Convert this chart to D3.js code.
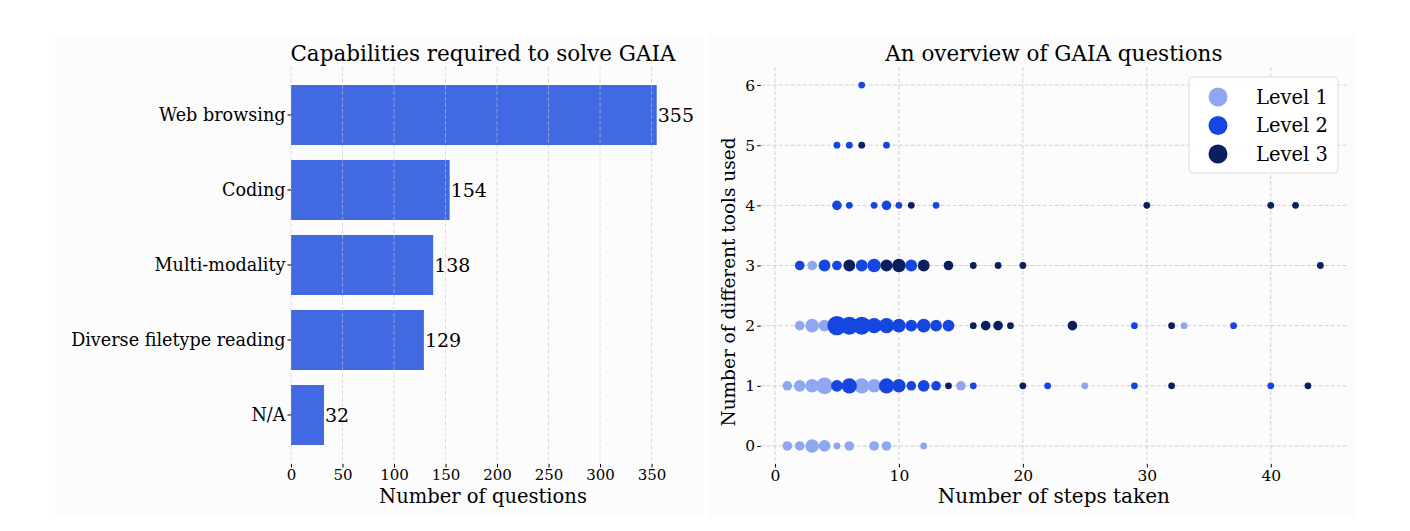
<!DOCTYPE html>
<html>
<head>
<meta charset="utf-8">
<script src="https://cdn.jsdelivr.net/npm/d3@7"></script>
<style>
  body { margin: 0; background: #ffffff; }
  text { font-family: "DejaVu Serif", serif; fill: #000; }
</style>
</head>
<body>
<div id="chart"></div>
<script>
// bar chart data
const capabilities = ["Web browsing", "Coding", "Multi-modality", "Diverse filetype reading", "N/A"];
const capabilityCounts = [355, 154, 138, 129, 32];
const barTicks = [0, 50, 100, 150, 200, 250, 300, 350];

// scatter data: [steps, tools, number of questions]
const level1Points = [
  [1, 0, 2], [2, 0, 2], [3, 0, 4], [4, 0, 3], [5, 0, 1], [6, 0, 2], [8, 0, 2], [9, 0, 2], [12, 0, 1],
  [1, 1, 2], [2, 1, 3], [3, 1, 4], [4, 1, 6], [7, 1, 5], [8, 1, 4], [15, 1, 2], [25, 1, 1],
  [2, 2, 2], [3, 2, 4], [4, 2, 3], [33, 2, 1],
  [3, 3, 2]
];
const level2Points = [
  [5, 1, 3], [6, 1, 5], [9, 1, 5], [10, 1, 4], [11, 1, 2], [12, 1, 3], [13, 1, 2], [16, 1, 1],
  [22, 1, 1], [29, 1, 1], [40, 1, 1],
  [5, 2, 8], [6, 2, 7], [7, 2, 7], [8, 2, 5], [9, 2, 5], [10, 2, 4], [11, 2, 3], [12, 2, 4],
  [13, 2, 3], [14, 2, 3], [29, 2, 1], [37, 2, 1],
  [2, 3, 2], [4, 3, 3], [5, 3, 2], [7, 3, 3], [8, 3, 4], [11, 3, 3],
  [5, 4, 2], [6, 4, 1], [8, 4, 1], [9, 4, 2], [10, 4, 1], [13, 4, 1],
  [5, 5, 1], [6, 5, 1], [9, 5, 1],
  [7, 6, 1]
];
const level3Points = [
  [14, 1, 1], [20, 1, 1], [32, 1, 1], [43, 1, 1],
  [16, 2, 1], [17, 2, 2], [18, 2, 2], [19, 2, 1], [24, 2, 2], [32, 2, 1],
  [6, 3, 3], [9, 3, 3], [10, 3, 4], [12, 3, 3], [14, 3, 2], [16, 3, 1], [18, 3, 1], [20, 3, 1], [44, 3, 1],
  [11, 4, 1], [30, 4, 1], [40, 4, 1], [42, 4, 1],
  [7, 5, 1]
];
const levelNames = ["Level 1", "Level 2", "Level 3"];
const stepTicks = [0, 10, 20, 30, 40];
const toolTicks = [0, 1, 2, 3, 4, 5, 6];

const width = 1410, height = 531;
const levelColor = d3.scaleOrdinal().domain(levelNames).range(["#8ea7f0", "#1547e0", "#0b1f5e"]);
const gridColor = "#c8c8c8";

const svg = d3.select("#chart").append("svg")
    .attr("width", width)
    .attr("height", height);

// faint panel backgrounds
svg.append("rect").attr("x", 55).attr("y", 35).attr("width", 648).attr("height", 482).attr("fill", "#fcfcfc");
svg.append("rect").attr("x", 708).attr("y", 35).attr("width", 648).attr("height", 482).attr("fill", "#fcfcfc");

const plotTop = 67, plotBottom = 464;

// ---------- left: bar chart ----------
const xBar = d3.scaleLinear()
    .domain([0, d3.max(capabilityCounts) * 1.05])
    .range([291, 675]);

const yBar = d3.scaleBand()
    .domain(capabilities)
    .range([77.5, 452.5])
    .paddingInner(0.2)
    .paddingOuter(0.1);

svg.selectAll("rect.bar")
    .data(capabilities)
    .enter().append("rect")
    .attr("class", "bar")
    .attr("x", xBar(0))
    .attr("y", d => yBar(d))
    .attr("width", (d, i) => xBar(capabilityCounts[i]) - xBar(0))
    .attr("height", yBar.bandwidth())
    .attr("fill", "#4169e1");

// vertical grid
svg.selectAll("line.barGrid")
    .data(barTicks)
    .enter().append("line")
    .attr("class", "barGrid")
    .attr("x1", d => xBar(d)).attr("x2", d => xBar(d))
    .attr("y1", plotTop).attr("y2", plotBottom)
    .attr("stroke", gridColor)
    .attr("stroke-opacity", 0.75)
    .attr("stroke-dasharray", "4,2")
    .attr("stroke-width", 0.8);

// value labels
svg.selectAll("text.value")
    .data(capabilities)
    .enter().append("text")
    .attr("class", "value")
    .attr("x", (d, i) => xBar(capabilityCounts[i]) + 1)
    .attr("y", d => yBar(d) + yBar.bandwidth() / 2)
    .attr("dy", "0.36em")
    .style("font-size", "19px")
    .text((d, i) => capabilityCounts[i]);

const barXAxis = svg.append("g")
    .attr("transform", "translate(0," + plotBottom + ")")
    .call(d3.axisBottom(xBar).tickValues(barTicks).tickSize(3.5).tickPadding(2));
barXAxis.select(".domain").remove();

const barYAxis = svg.append("g")
    .attr("transform", "translate(" + xBar(0) + ",0)")
    .call(d3.axisLeft(yBar).tickSize(3.5).tickPadding(2));
barYAxis.select(".domain").remove();

barXAxis.selectAll("text").style("font-size", "15px").style("font-family", "DejaVu Serif");
barYAxis.selectAll("text").style("font-size", "17.6px").style("font-family", "DejaVu Serif");

svg.append("text")
    .attr("x", (xBar.range()[0] + xBar.range()[1]) / 2)
    .attr("y", 61)
    .style("text-anchor", "middle")
    .style("font-size", "21.5px")
    .text("Capabilities required to solve GAIA");

svg.append("text")
    .attr("x", (xBar.range()[0] + xBar.range()[1]) / 2)
    .attr("y", 503)
    .style("text-anchor", "middle")
    .style("font-size", "19.5px")
    .text("Number of questions");

// ---------- right: scatter ----------
const xSc = d3.scaleLinear().domain([-1.15, 46.15]).range([760.7, 1347]);
const ySc = d3.scaleLinear().domain([-0.3, 6.3]).range([plotBottom, plotTop]);
const radius = d3.scaleSqrt().domain([0, 1]).range([0, 3.4]);

svg.selectAll("line.hGrid")
    .data(toolTicks)
    .enter().append("line")
    .attr("class", "hGrid")
    .attr("x1", xSc.range()[0]).attr("x2", xSc.range()[1])
    .attr("y1", d => ySc(d)).attr("y2", d => ySc(d))
    .attr("stroke", gridColor)
    .attr("stroke-dasharray", "4,2")
    .attr("stroke-width", 0.8);

svg.selectAll("line.vGrid")
    .data(stepTicks)
    .enter().append("line")
    .attr("class", "vGrid")
    .attr("x1", d => xSc(d)).attr("x2", d => xSc(d))
    .attr("y1", plotTop).attr("y2", plotBottom)
    .attr("stroke", gridColor)
    .attr("stroke-dasharray", "4,2")
    .attr("stroke-width", 0.8);

[level1Points, level2Points, level3Points].forEach(function(points, li) {
    svg.selectAll("circle.lvl" + li)
        .data(points)
        .enter().append("circle")
        .attr("class", "lvl" + li)
        .attr("cx", d => xSc(d[0]))
        .attr("cy", d => ySc(d[1]))
        .attr("r", d => radius(d[2]))
        .attr("fill", levelColor(levelNames[li]));
});

const scXAxis = svg.append("g")
    .attr("transform", "translate(0," + plotBottom + ")")
    .call(d3.axisBottom(xSc).tickValues(stepTicks).tickFormat(d3.format("d")).tickSize(3.5).tickPadding(2));
scXAxis.select(".domain").remove();

const scYAxis = svg.append("g")
    .attr("transform", "translate(" + xSc.range()[0] + ",0)")
    .call(d3.axisLeft(ySc).tickValues(toolTicks).tickFormat(d3.format("d")).tickSize(3.5).tickPadding(2));
scYAxis.select(".domain").remove();

scXAxis.selectAll("text").style("font-size", "15.5px").style("font-family", "DejaVu Serif");
scYAxis.selectAll("text").style("font-size", "15.5px").style("font-family", "DejaVu Serif");

svg.append("text")
    .attr("x", (xSc.range()[0] + xSc.range()[1]) / 2)
    .attr("y", 61)
    .style("text-anchor", "middle")
    .style("font-size", "21.5px")
    .text("An overview of GAIA questions");

svg.append("text")
    .attr("x", (xSc.range()[0] + xSc.range()[1]) / 2)
    .attr("y", 503)
    .style("text-anchor", "middle")
    .style("font-size", "20px")
    .text("Number of steps taken");

svg.append("text")
    .attr("transform", "rotate(-90)")
    .attr("x", -282)
    .attr("y", 735)
    .style("text-anchor", "middle")
    .style("font-size", "18.5px")
    .text("Number of different tools used");

// legend
svg.append("rect")
    .attr("x", 1189).attr("y", 77)
    .attr("width", 149).attr("height", 96)
    .attr("rx", 4)
    .attr("fill", "white").attr("fill-opacity", 0.85)
    .attr("stroke", "#dcdcdc");

const legend = svg.selectAll("g.legend")
    .data(levelNames)
    .enter().append("g")
    .attr("class", "legend")
    .attr("transform", (d, i) => "translate(0," + (97 + i * 28.5) + ")");

legend.append("circle")
    .attr("cx", 1218).attr("cy", 0).attr("r", 9.5)
    .attr("fill", d => levelColor(d));

legend.append("text")
    .attr("x", 1256).attr("y", 0)
    .attr("dy", "0.35em")
    .style("font-size", "19.5px")
    .text(d => d);
</script>
</body>
</html>
